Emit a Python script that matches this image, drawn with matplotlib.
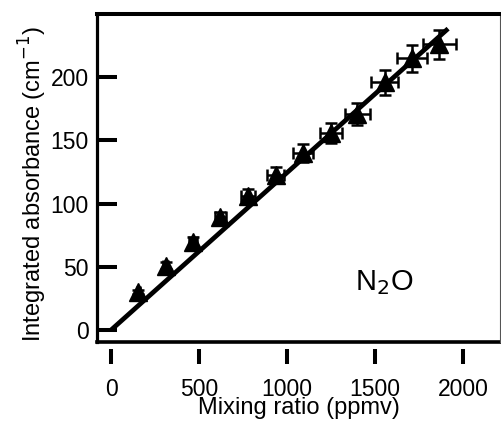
import matplotlib
matplotlib.use("Agg")
import matplotlib.pyplot as plt

plt.rcParams["font.family"] = ["Liberation Sans", "DejaVu Sans"]

# datos
mezcla = [155, 310, 465, 620, 780, 935, 1090, 1250, 1400, 1555, 1710, 1865]
absorb = [30, 51, 70, 89, 106, 123, 140, 156, 171, 196, 215, 226]
err_x = [8, 16, 23, 31, 39, 47, 55, 62, 70, 78, 86, 93]
err_y = [1.5, 2.5, 3.5, 4.5, 5.3, 6.2, 7.0, 7.8, 8.6, 9.8, 10.8, 11.3]

# recta de ajuste
ajuste_x = [0, 1915]
pendiente = 0.1245

xticks = [0, 500, 1000, 1500, 2000]
yticks = [0, 50, 100, 150, 200]

fig = plt.figure(figsize=(5.01, 4.23), dpi=100)
ax = fig.add_axes([97 / 501, 81 / 423, 403 / 501, 328 / 423])

ax.plot(ajuste_x, [pendiente * v for v in ajuste_x], color="black", lw=3.4, solid_capstyle="butt", zorder=2)
ax.errorbar(mezcla, absorb, xerr=err_x, yerr=err_y, fmt="^", color="black",
            ms=13, elinewidth=1.8, capsize=4.5, capthick=1.8, zorder=3)

ax.set_xlim(-80, 2210)
ax.set_ylim(-9.5, 250)
ax.set_xticks(xticks)
ax.set_yticks(yticks)

# marco
ax.spines["left"].set_linewidth(2.3)
ax.spines["top"].set_linewidth(2.9)
ax.spines["right"].set_linewidth(0.8)
ax.spines["right"].set_color("#555555")
ax.spines["bottom"].set_position(("outward", 5))
ax.spines["bottom"].set_visible(False)
ax.plot([0, 1], [0, 0], transform=ax.transAxes, color="black", lw=2.6, clip_on=False)

ax.tick_params(axis="x", direction="out", length=11, width=2.9, pad=10, labelsize=16.5)
ax.tick_params(axis="y", direction="in", length=14.5, width=2.9, pad=6, labelsize=16.5)

ax.set_xlabel("Mixing ratio (ppmv)", fontsize=17, labelpad=-3)
ax.set_ylabel("Integrated absorbance (cm$^{-1}$)", fontsize=17)
ax.yaxis.set_label_coords(-0.118, 0.482)

ax.text(1551, 31.6, "N$_2$O", fontsize=21, ha="center", va="baseline")

fig.savefig("out.png", dpi=100)
